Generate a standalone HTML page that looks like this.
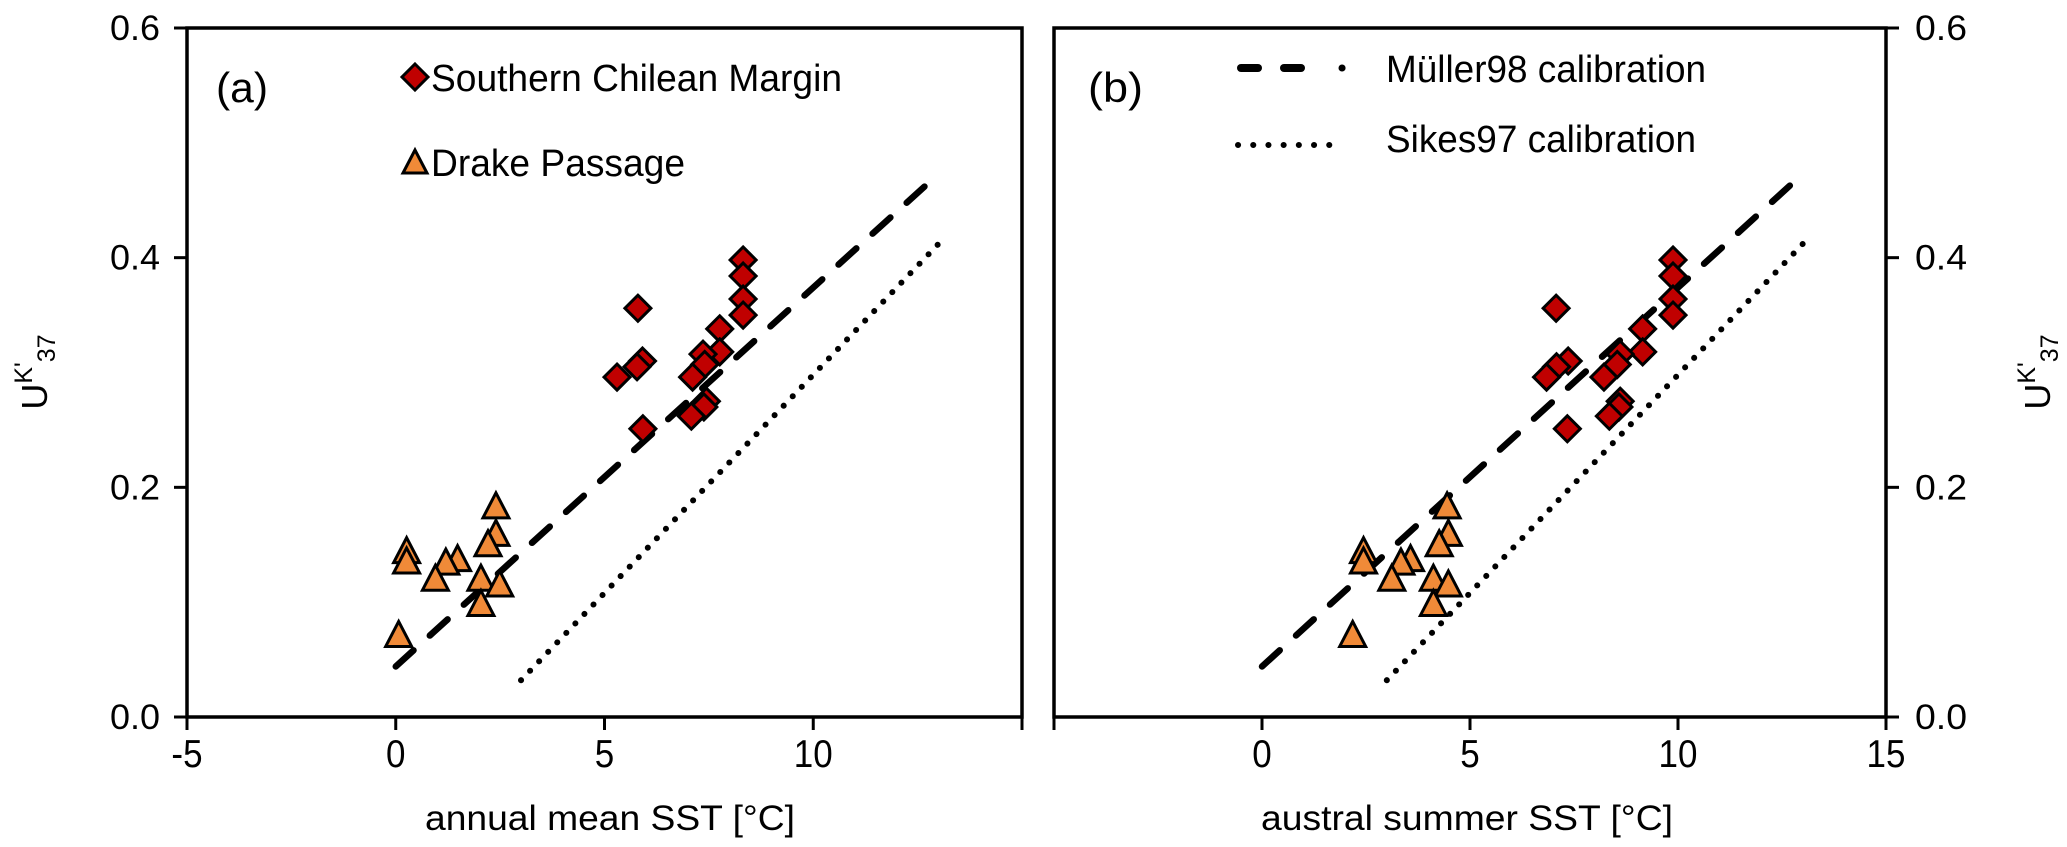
<!DOCTYPE html>
<html><head><meta charset="utf-8"><style>
html,body{margin:0;padding:0;background:#fff;}
svg{display:block;font-family:"Liberation Sans",Arial,sans-serif;}
</style></head><body>
<svg id="chart" width="2067" height="847" viewBox="0 0 2067 847" xmlns="http://www.w3.org/2000/svg"></svg>
<script>
// ---- data ----
const chileAnnualX = [8.32,8.32,8.32,8.32,5.80,7.76,7.76,7.36,7.40,5.91,5.78,5.30,7.11,7.44,7.38,7.08,5.92];
const chileSummerX = [9.88,9.88,9.88,9.88,7.07,9.15,9.15,8.61,8.54,7.36,7.08,6.84,8.22,8.61,8.58,8.35,7.34];
const chileUk = [0.398,0.384,0.364,0.350,0.356,0.338,0.318,0.316,0.307,0.310,0.305,0.296,0.296,0.275,0.270,0.262,0.251];
const drakeAnnualX = [2.40,2.40,2.21,0.26,0.26,1.48,1.20,0.95,2.04,2.49,2.04,0.07];
const drakeSummerX = [4.45,4.48,4.26,2.44,2.44,3.57,3.34,3.12,4.12,4.48,4.12,2.18];
const drakeUk = [0.183,0.159,0.150,0.144,0.135,0.137,0.134,0.120,0.120,0.115,0.098,0.071];
const mullerT = [0, 13];
const mullerSlope = 0.033, mullerIntercept = 0.044;
const sikesT = [3, 13];
const sikesSlope = 0.038, sikesIntercept = -0.082;
const xTicksA = [-5,0,5,10,15];
const xTickLabelsA = ["-5","0","5","10",""];
const xTicksB = [-5,0,5,10,15];
const xTickLabelsB = ["","0","5","10","15"];
const yTicks = [0,0.2,0.4,0.6];
const yTickLabels = ["0.0","0.2","0.4","0.6"];

const NS = "http://www.w3.org/2000/svg";
const svg = document.getElementById('chart');
const TOP = 28, BOT = 717;
const yS = v => BOT - (v/0.6)*(BOT-TOP);
function mk(tag, attrs, parent){
  const e = document.createElementNS(NS, tag);
  for (const k in attrs) e.setAttribute(k, attrs[k]);
  (parent||svg).appendChild(e);
  return e;
}
function txt(s, attrs, parent){ const t = mk('text', attrs, parent); t.textContent = s; return t; }

const panels = [
  {id:'a', L:187, R:1022, xs:chileAnnualX, xd:drakeAnnualX, ticks:xTicksA, labels:xTickLabelsA, yside:'left', title:'annual mean SST [°C]', tx:610, tlen:370},
  {id:'b', L:1054, R:1886, xs:chileSummerX, xd:drakeSummerX, ticks:xTicksB, labels:xTickLabelsB, yside:'right', title:'austral summer SST [°C]', tx:1467, tlen:412}
];

panels.forEach(p => {
  const xS = v => p.L + (v+5)/20*(p.R-p.L);
  const g = mk('g', {});
  
  
  const frame = mk('rect', {x:p.L, y:TOP, width:p.R-p.L, height:BOT-TOP, fill:'none', stroke:'#000', 'stroke-width':3.5}, g);
  
  

  p.ticks.forEach((t,i) => {
    const x = xS(t);
    const tk = mk('line', {x1:x, x2:x, y1:BOT, y2:BOT+13, stroke:'#000', 'stroke-width':3}, g);
    
    
    if (p.labels[i]) {
      const lb = txt(p.labels[i], {x:x, y:BOT+50, 'font-size':35, 'text-anchor':'middle', transform:`translate(0 ${-(BOT+50)*0.1}) scale(1 1.1)`}, g);
      
      
    }
  });
  const xt = txt(p.title, {x:p.tx, y:830, 'font-size':35, 'text-anchor':'middle', textLength:p.tlen, lengthAdjust:'spacingAndGlyphs'}, g);
  
  

  yTicks.forEach((t,i) => {
    const y = yS(t);
    const x0 = p.yside==='left' ? p.L : p.R;
    const x1 = p.yside==='left' ? p.L-13 : p.R+13;
    const tk = mk('line', {x1:x0, x2:x1, y1:y, y2:y, stroke:'#000', 'stroke-width':3}, g);
    
    
    const lb = txt(yTickLabels[i], p.yside==='left'
      ? {x:160, y:y+12, 'font-size':35, 'text-anchor':'end', textLength:50, lengthAdjust:'spacingAndGlyphs'}
      : {x:1915, y:y+12, 'font-size':35, 'text-anchor':'start', textLength:52, lengthAdjust:'spacingAndGlyphs'}, g);
    
    
  });
  const yx = p.yside==='left' ? 47 : 2050;
  const yt = mk('text', {x:yx, y:372, 'font-size':36, 'text-anchor':'middle', transform:'rotate(-90 '+yx+' 372)'}, g);
  
  
  yt.innerHTML = 'U<tspan dy="-15" font-size="25">K\'</tspan><tspan dy="23" font-size="25">37</tspan>';

  const m = mk('line', {x1:xS(mullerT[0]), y1:yS(mullerSlope*mullerT[0]+mullerIntercept), x2:xS(mullerT[1]), y2:yS(mullerSlope*mullerT[1]+mullerIntercept), stroke:'#000', 'stroke-width':6.5, 'stroke-dasharray':'24 22', 'stroke-linecap':'round'}, g);
  
  
  const s = mk('line', {x1:xS(sikesT[0]), y1:yS(sikesSlope*sikesT[0]+sikesIntercept), x2:xS(sikesT[1]), y2:yS(sikesSlope*sikesT[1]+sikesIntercept), stroke:'#000', 'stroke-width':6, 'stroke-dasharray':'0.1 13', 'stroke-linecap':'round'}, g);
  
  

  p.xd.forEach((v,i) => {
    const cx = xS(v), cy = yS(drakeUk[i]);
    const tri = mk('polygon', {points:`${cx},${cy-14} ${cx-13},${cy+11} ${cx+13},${cy+11}`, fill:'#f08a38', stroke:'#000', 'stroke-width':3}, g);
    
    
  });
  p.xs.forEach((v,i) => {
    const cx = xS(v), cy = yS(chileUk[i]);
    const d = mk('polygon', {points:`${cx},${cy-13} ${cx+13},${cy} ${cx},${cy+13} ${cx-13},${cy}`, fill:'#c00000', stroke:'#000', 'stroke-width':3}, g);
    
    
  });
});

const la = txt('(a)', {x:216, y:102, 'font-size':42, textLength:52, lengthAdjust:'spacingAndGlyphs'});


const lbb = txt('(b)', {x:1088, y:102, 'font-size':42, textLength:55, lengthAdjust:'spacingAndGlyphs'});



const ld = mk('polygon', {points:'415,64 428,77 415,90 402,77', fill:'#c00000', stroke:'#000', 'stroke-width':3});


const lt1 = txt('Southern Chilean Margin', {x:431, y:91, 'font-size':38, textLength:411, lengthAdjust:'spacingAndGlyphs'});


const ltr = mk('polygon', {points:'415,150 403,173 427,173', fill:'#f08a38', stroke:'#000', 'stroke-width':3});


const lt2 = txt('Drake Passage', {x:431, y:176, 'font-size':38, textLength:254, lengthAdjust:'spacingAndGlyphs'});



const lm = mk('g', {});


mk('line', {x1:1241, y1:68, x2:1258, y2:68, stroke:'#000', 'stroke-width':8, 'stroke-linecap':'round'}, lm);
mk('line', {x1:1284, y1:68, x2:1301, y2:68, stroke:'#000', 'stroke-width':8, 'stroke-linecap':'round'}, lm);
mk('line', {x1:1342, y1:68, x2:1342.1, y2:68, stroke:'#000', 'stroke-width':7, 'stroke-linecap':'round'}, lm);
const lt3 = txt('Müller98 calibration', {x:1386, y:82, 'font-size':38, textLength:320, lengthAdjust:'spacingAndGlyphs'});


const ls = mk('line', {x1:1238, y1:145, x2:1344, y2:145, stroke:'#000', 'stroke-width':6, 'stroke-dasharray':'0.1 15.1', 'stroke-linecap':'round'});


const lt4 = txt('Sikes97 calibration', {x:1386, y:152, 'font-size':38, textLength:310, lengthAdjust:'spacingAndGlyphs'});


</script>
</body></html>
